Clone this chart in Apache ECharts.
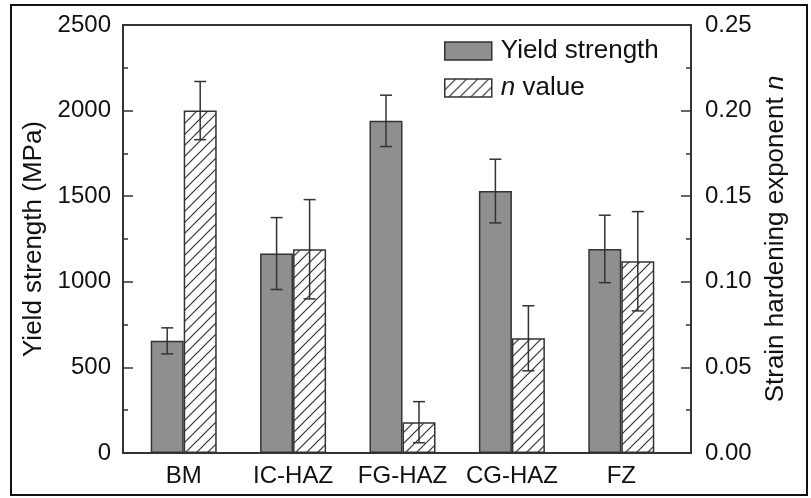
<!DOCTYPE html>
<html>
<head>
<meta charset="utf-8">
<script src="https://cdn.jsdelivr.net/npm/echarts@6/dist/echarts.min.js"></script>
<style>
  html, body { margin: 0; padding: 0; background: #fff; }
  #chart { width: 811px; height: 498px; }
</style>
</head>
<body>
<div id="chart"></div>
<script>
// Zones of the weld joint
const categories = ['BM', 'IC-HAZ', 'FG-HAZ', 'CG-HAZ', 'FZ'];
// Yield strength (MPa) and its scatter
const yieldStrength = [655, 1165, 1940, 1530, 1192];
const yieldErr = [76, 210, 150, 186, 197];
// Strain hardening exponent n and its scatter
const nValue = [0.200, 0.119, 0.018, 0.067, 0.112];
const nErr = [0.017, 0.029, 0.012, 0.019, 0.029];

const FONT = '"Liberation Sans", Arial, sans-serif';
const INK = '#111';
const LINE = '#333';
const BAR_W = 33;

// diagonal hatch fill for the n-value bars
function hatch() {
  const s = 11;
  const c = document.createElement('canvas');
  c.width = s; c.height = s;
  const g = c.getContext('2d');
  g.fillStyle = '#fff';
  g.fillRect(0, 0, s, s);
  g.strokeStyle = '#333';
  g.lineWidth = 1.2;
  g.beginPath();
  g.moveTo(0, s); g.lineTo(s, 0);
  g.moveTo(-2, 2); g.lineTo(2, -2);
  g.moveTo(s - 2, s + 2); g.lineTo(s + 2, s - 2);
  g.stroke();
  return { image: c, repeat: 'repeat' };
}
const hatchFill = hatch();

const yieldStyle = { color: '#8f8f8f', borderColor: LINE, borderWidth: 1.5 };
const nStyle = { color: hatchFill, borderColor: LINE, borderWidth: 1.5 };

function errData(vals, errs) {
  return vals.map((v, i) => [i, v, v + errs[i], v - errs[i]]);
}

function errRenderer(offset) {
  return function (params, api) {
    const i = api.value(0);
    const hi = api.coord([i, api.value(2)]);
    const lo = api.coord([i, api.value(3)]);
    const x = hi[0] + offset;
    const cap = 6;
    const st = { stroke: LINE, lineWidth: 1.5 };
    return {
      type: 'group',
      children: [
        { type: 'line', shape: { x1: x, y1: hi[1], x2: x, y2: lo[1] }, style: st },
        { type: 'line', shape: { x1: x - cap, y1: hi[1], x2: x + cap, y2: hi[1] }, style: st },
        { type: 'line', shape: { x1: x - cap, y1: lo[1], x2: x + cap, y2: lo[1] }, style: st }
      ]
    };
  };
}

const tickStyle = { color: LINE, width: 1.5 };

const option = {
  animation: false,
  backgroundColor: '#fff',
  textStyle: { fontFamily: FONT, color: INK },
  graphic: [{
    type: 'rect',
    shape: { x: 11, y: 5, width: 796, height: 490 },
    style: { fill: 'none', stroke: '#111', lineWidth: 2 },
    silent: true
  }],
  legend: {
    orient: 'vertical',
    left: 444,
    top: 38,
    padding: 0,
    itemWidth: 47,
    itemHeight: 18,
    itemGap: 11,
    icon: 'rect',
    data: [
      { name: 'Yield strength', itemStyle: yieldStyle },
      { name: 'n value', itemStyle: nStyle }
    ],
    formatter: function (name) {
      return name === 'n value' ? '{i|n} value' : name;
    },
    textStyle: {
      fontFamily: FONT, fontSize: 26, color: INK, padding: [0, 0, 0, 4],
      rich: { i: { fontFamily: FONT, fontSize: 26, fontStyle: 'italic', color: INK } }
    }
  },
  grid: [
    { left: 123, right: 120, top: 25, bottom: 45, show: true, borderColor: LINE, borderWidth: 2, backgroundColor: 'transparent' },
    { left: 129, right: 135, top: 25, bottom: 45 }
  ],
  xAxis: [
    {
      gridIndex: 0, type: 'value', min: 0, max: 1,
      axisLine: { show: false }, axisTick: { show: false },
      axisLabel: { show: false }, splitLine: { show: false }
    },
    {
      gridIndex: 1, type: 'category', data: categories,
      axisLine: { show: false }, axisTick: { show: false }, splitLine: { show: false },
      axisLabel: { interval: 0, fontFamily: FONT, fontSize: 24, color: INK, margin: 11 }
    }
  ],
  yAxis: [
    {
      gridIndex: 0, type: 'value', position: 'left', min: 0, max: 2500, interval: 500,
      name: 'Yield strength (MPa)', nameLocation: 'middle', nameGap: 60, nameRotate: 90,
      nameTextStyle: { fontFamily: FONT, fontSize: 26, color: INK },
      axisLine: { show: true, lineStyle: { color: LINE, width: 2 } },
      axisTick: { show: true, inside: true, length: 10, lineStyle: tickStyle },
      minorTick: { show: true, splitNumber: 2, length: 5, lineStyle: tickStyle },
      axisLabel: { fontFamily: FONT, fontSize: 24, color: INK, margin: 12, formatter: v => String(v) },
      splitLine: { show: false }
    },
    {
      gridIndex: 0, type: 'value', position: 'right', min: 0, max: 0.25, interval: 0.05,
      name: 'Strain hardening exponent {i|n}', nameLocation: 'middle', nameGap: 72, nameRotate: 90,
      nameTextStyle: {
        fontFamily: FONT, fontSize: 26, color: INK,
        rich: { i: { fontFamily: FONT, fontSize: 26, fontStyle: 'italic', color: INK } }
      },
      axisLine: { show: true, lineStyle: { color: LINE, width: 2 } },
      axisTick: { show: true, inside: true, length: 10, lineStyle: tickStyle },
      minorTick: { show: true, splitNumber: 2, length: 5, lineStyle: tickStyle },
      axisLabel: {
        fontFamily: FONT, fontSize: 24, color: INK, margin: 14,
        formatter: v => v.toFixed(2)
      },
      splitLine: { show: false }
    },
    { gridIndex: 1, type: 'value', min: 0, max: 2500, show: false, splitLine: { show: false } },
    { gridIndex: 1, type: 'value', min: 0, max: 0.25, show: false, splitLine: { show: false } }
  ],
  series: [
    {
      name: 'Yield strength', type: 'bar', xAxisIndex: 1, yAxisIndex: 2,
      data: yieldStrength, barWidth: BAR_W, barGap: '0%',
      itemStyle: yieldStyle
    },
    {
      name: 'n value', type: 'bar', xAxisIndex: 1, yAxisIndex: 3,
      data: nValue, barWidth: BAR_W, barGap: '0%',
      itemStyle: nStyle
    },
    {
      type: 'custom', xAxisIndex: 1, yAxisIndex: 2, z: 5,
      data: errData(yieldStrength, yieldErr),
      encode: { x: 0, y: [1, 2, 3] },
      renderItem: errRenderer(-BAR_W / 2)
    },
    {
      type: 'custom', xAxisIndex: 1, yAxisIndex: 3, z: 5,
      data: errData(nValue, nErr),
      encode: { x: 0, y: [1, 2, 3] },
      renderItem: errRenderer(BAR_W / 2)
    }
  ]
};

echarts.init(document.getElementById('chart'), null, { renderer: 'canvas' }).setOption(option);
</script>
</body>
</html>
